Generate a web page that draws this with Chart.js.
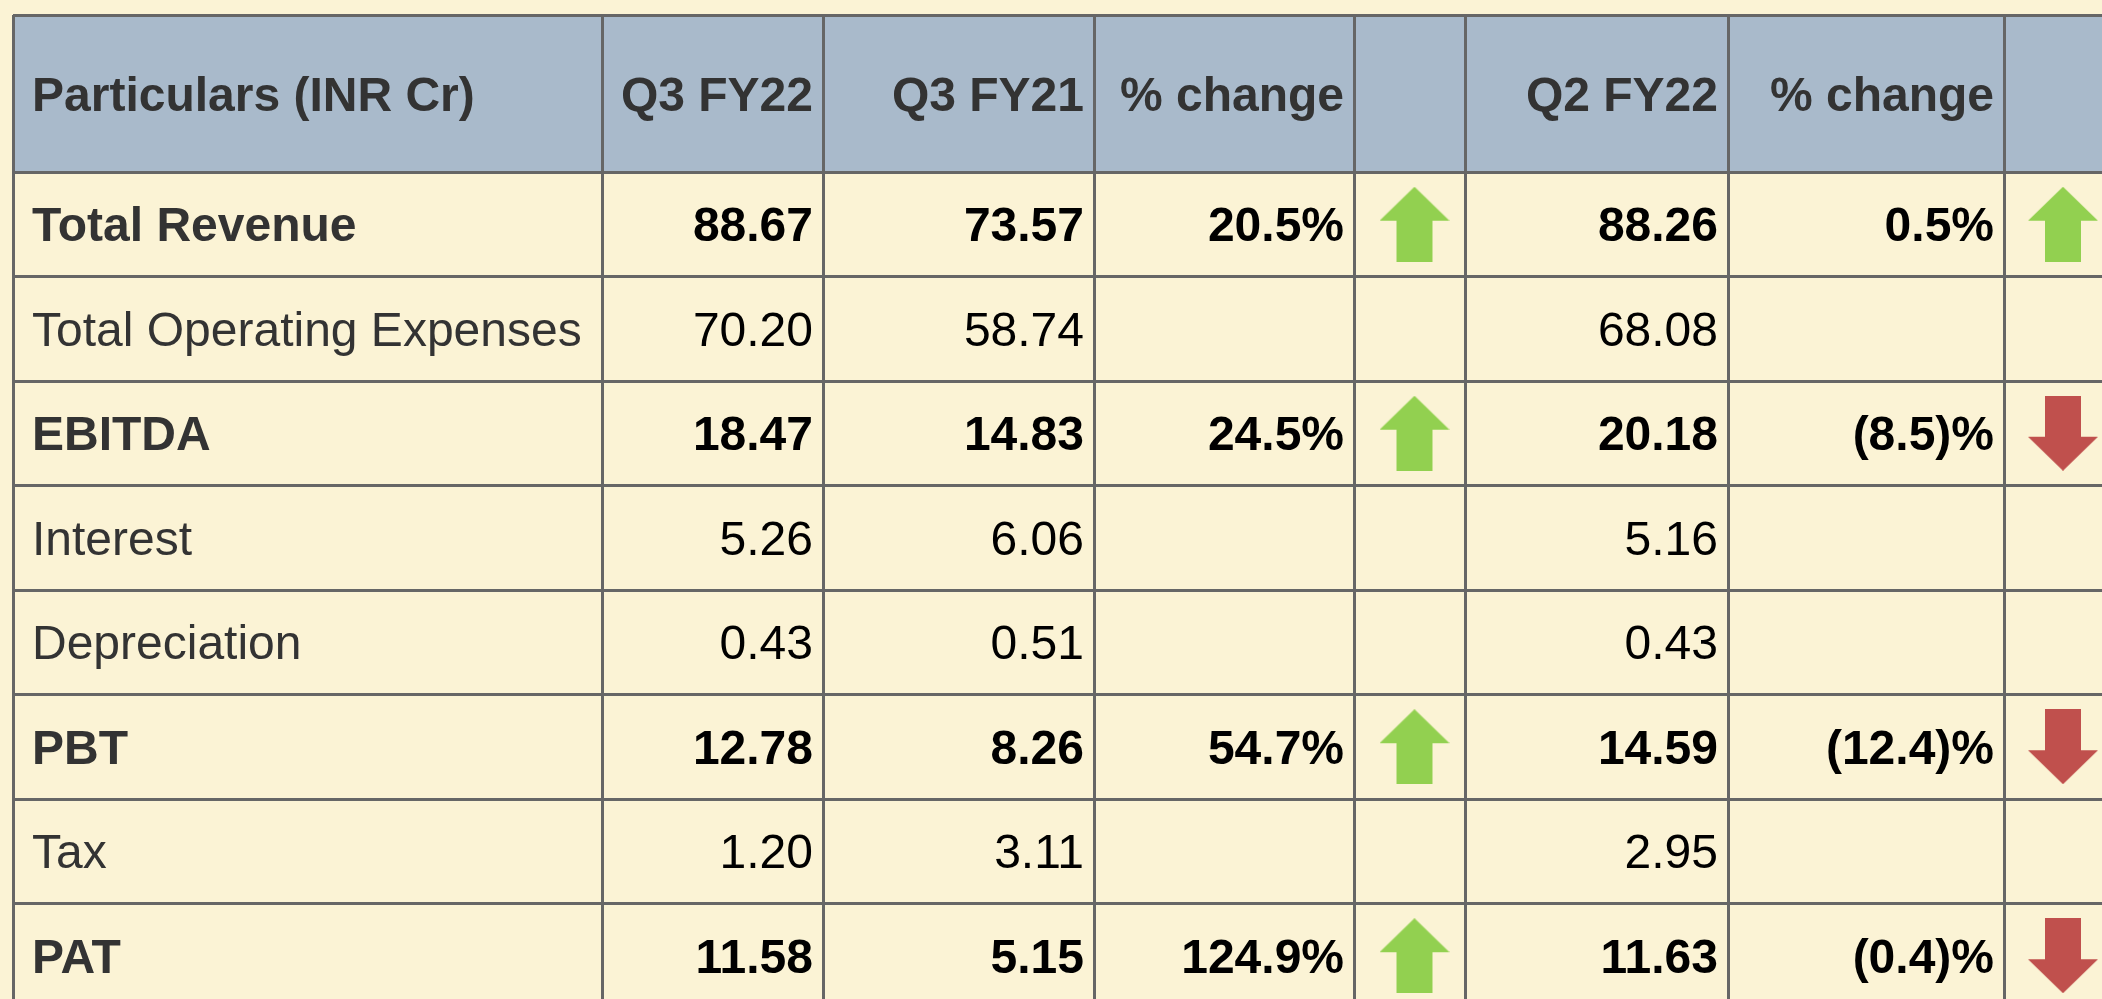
<!DOCTYPE html>
<html>
<head>
<meta charset="utf-8">
<title>Q3 FY22 results</title>
<script src="https://cdn.jsdelivr.net/npm/chart.js@4.4.1/dist/chart.umd.min.js"></script>
<style>
  html, body { margin: 0; padding: 0; background: #fbf3d5; overflow: hidden; }
  canvas { display: block; }
</style>
</head>
<body>
<canvas id="resultsTable" width="2102" height="999"></canvas>
<script>
// Table contents
const headers = ['Particulars (INR Cr)', 'Q3 FY22', 'Q3 FY21', '% change', '', 'Q2 FY22', '% change', ''];
const particulars = ['Total Revenue', 'Total Operating Expenses', 'EBITDA', 'Interest', 'Depreciation', 'PBT', 'Tax', 'PAT'];
const boldRows = [true, false, true, false, false, true, false, true];
const q3fy22 = [88.67, 70.20, 18.47, 5.26, 0.43, 12.78, 1.20, 11.58];
const q3fy21 = [73.57, 58.74, 14.83, 6.06, 0.51, 8.26, 3.11, 5.15];
const yoyChange = [20.5, null, 24.5, null, null, 54.7, null, 124.9];
const q2fy22 = [88.26, 68.08, 20.18, 5.16, 0.43, 14.59, 2.95, 11.63];
const qoqChange = [0.5, null, -8.5, null, null, -12.4, null, -0.4];

// Layout, in pixels
const tableLeft = 13;
const tableTop = 15;
const colWidths = [589, 221, 271, 260, 111, 263, 276, 124];
const headerHeight = 157;
const rowHeight = 104.5;
const visibleWidth = 2102 - tableLeft;
const visibleHeight = 999 - tableTop;

const colEdges = [0];
colWidths.forEach(w => colEdges.push(colEdges[colEdges.length - 1] + w));
const rowEdges = [0, headerHeight];
particulars.forEach(() => rowEdges.push(rowEdges[rowEdges.length - 1] + rowHeight));

function colCenter(c) {
    return (colEdges[c] + colEdges[c + 1]) / 2;
}
function rowCenter(r) {
    return (rowEdges[r + 1] + rowEdges[r + 2]) / 2;
}

function formatChange(v) {
    return v < 0 ? '(' + Math.abs(v).toFixed(1) + ')%' : v.toFixed(1) + '%';
}

// Arrow images used as point styles
function makeArrow(color, up) {
    const c = document.createElement('canvas');
    c.width = 70;
    c.height = 75;
    const g = c.getContext('2d');
    const pts = [[35, 0], [70, 34], [53, 34], [53, 75], [17, 75], [17, 34], [0, 34]];
    g.fillStyle = color;
    g.beginPath();
    pts.forEach((p, i) => {
        const py = up ? p[1] : 75 - p[1];
        if (i === 0) g.moveTo(p[0], py); else g.lineTo(p[0], py);
    });
    g.closePath();
    g.fill();
    return c;
}
const upArrow = makeArrow('#92d050', true);
const downArrow = makeArrow('#c0504d', false);

// shift = small nudge off the cell centre, as in the slide
function arrowPoints(changes, col, shift) {
    const pts = [];
    changes.forEach((v, i) => {
        if (v !== null) pts.push({ x: colCenter(col) + shift, y: rowCenter(i), change: v });
    });
    return pts;
}

const fontFamily = '"Liberation Sans", Arial, sans-serif';

const tablePlugin = {
    id: 'tablePlugin',
    beforeDraw(chart) {
        const { ctx, scales: { x, y } } = chart;
        ctx.save();
        ctx.fillStyle = '#fbf3d5';
        ctx.fillRect(0, 0, chart.width, chart.height);
        // header band
        const x0 = x.getPixelForValue(0);
        const y0 = y.getPixelForValue(0);
        ctx.fillStyle = '#a9bacb';
        ctx.fillRect(x0, y0, x.getPixelForValue(x.max) - x0, y.getPixelForValue(headerHeight) - y0);
        ctx.restore();
    },
    afterDraw(chart) {
        const { ctx, scales: { x, y } } = chart;

        function cell(text, col, yMid, align) {
            if (text === '') return;
            const baseline = yMid + 17;
            if (align === 'left') {
                ctx.textAlign = 'left';
                ctx.fillText(text, x.getPixelForValue(colEdges[col]) + 19, baseline);
            } else {
                ctx.textAlign = 'right';
                ctx.fillText(text, x.getPixelForValue(colEdges[col + 1]) - 10, baseline);
            }
        }

        ctx.save();
        ctx.textBaseline = 'alphabetic';

        // header row
        ctx.font = 'bold 48px ' + fontFamily;
        ctx.fillStyle = '#333333';
        const headMid = y.getPixelForValue(headerHeight / 2);
        headers.forEach((h, c) => cell(h, c, headMid, c === 0 ? 'left' : 'right'));

        // body rows
        particulars.forEach((label, i) => {
            const mid = y.getPixelForValue(rowCenter(i));
            ctx.font = (boldRows[i] ? 'bold ' : '') + '48px ' + fontFamily;
            ctx.fillStyle = '#333333';
            cell(label, 0, mid, 'left');
            ctx.fillStyle = '#000000';
            cell(q3fy22[i].toFixed(2), 1, mid, 'right');
            cell(q3fy21[i].toFixed(2), 2, mid, 'right');
            if (yoyChange[i] !== null) cell(formatChange(yoyChange[i]), 3, mid, 'right');
            cell(q2fy22[i].toFixed(2), 5, mid, 'right');
            if (qoqChange[i] !== null) cell(formatChange(qoqChange[i]), 6, mid, 'right');
        });
        ctx.restore();
    }
};

const arrowStyle = ctx => (ctx.raw && ctx.raw.change < 0 ? downArrow : upArrow);

const ctx = document.getElementById('resultsTable').getContext('2d');
const resultsTable = new Chart(ctx, {
    type: 'scatter',
    data: {
        datasets: [{
            label: 'vs Q3 FY21',
            data: arrowPoints(yoyChange, 4, 5),
            pointStyle: arrowStyle,
            pointRadius: 1,
            clip: false
        }, {
            label: 'vs Q2 FY22',
            data: arrowPoints(qoqChange, 7, -3),
            pointStyle: arrowStyle,
            pointRadius: 1,
            clip: false
        }]
    },
    options: {
        responsive: false,
        animation: false,
        events: [],
        layout: {
            autoPadding: false,
            padding: { left: tableLeft, top: tableTop, right: 0, bottom: 0 }
        },
        plugins: {
            legend: { display: false },
            tooltip: { enabled: false }
        },
        scales: {
            x: {
                type: 'linear',
                min: 0,
                max: visibleWidth,
                ticks: { display: false },
                border: { display: false },
                grid: { color: '#666666', lineWidth: 3, drawTicks: false },
                afterBuildTicks: scale => {
                    scale.ticks = colEdges.filter(v => v <= visibleWidth).map(v => ({ value: v }));
                }
            },
            y: {
                type: 'linear',
                reverse: true,
                min: 0,
                max: visibleHeight,
                ticks: { display: false },
                border: { display: false },
                grid: { color: '#666666', lineWidth: 3, drawTicks: false },
                afterBuildTicks: scale => {
                    scale.ticks = rowEdges.filter(v => v <= visibleHeight).map(v => ({ value: v }));
                }
            }
        }
    },
    plugins: [tablePlugin]
});
</script>
</body>
</html>
